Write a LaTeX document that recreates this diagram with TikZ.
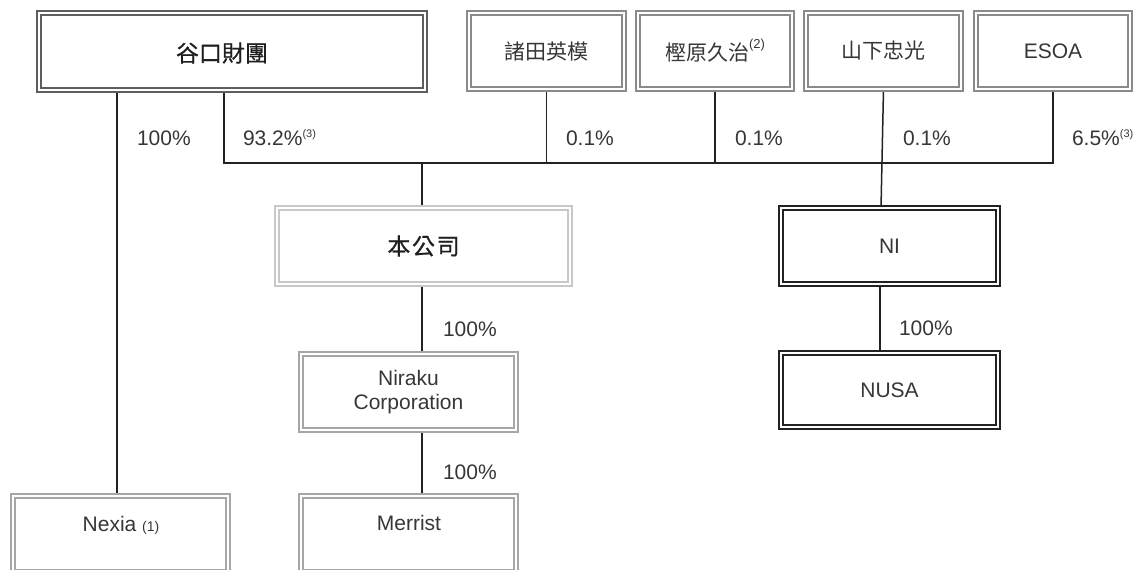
\documentclass[tikz,border=0pt]{standalone}
\usepackage{fontspec}
\setmainfont{Liberation Sans}
\newfontfamily\cjk{Noto Sans CJK TC}
\newfontfamily\cjkb{Noto Sans CJK TC}[FakeBold=0.6]
\usetikzlibrary{backgrounds}
\definecolor{bxA}{HTML}{5E5E5E}
\definecolor{bxB}{HTML}{8A8A8A}
\definecolor{bxC}{HTML}{C8C8C8}
\definecolor{bxD}{HTML}{A6A6A6}
\definecolor{bxE}{HTML}{222222}
\definecolor{txt}{HTML}{363636}
\definecolor{ln}{HTML}{222222}
\newcommand{\supnote}[1]{\raisebox{3.6pt}{\rmfamily\fontsize{5.5}{5.5}\selectfont(#1)}}
\begin{document}
\begin{tikzpicture}[x=0.5pt,y=-0.5pt,
  every node/.style={inner sep=0pt, outer sep=0pt, text=txt, font=\fontsize{10.5}{12}\selectfont},
  dbox/.style={draw=#1, double=white, line width=1pt, double distance=1pt},
  conn/.style={draw=ln, line width=0.75pt},
  pct/.style={anchor=base west},
  cjkbig/.style={font=\cjkb\fontsize{11.5}{12}\selectfont, text=black!88},
  cjksmall/.style={font=\cjk\fontsize{10.5}{12}\selectfont, text=txt}
]
\useasboundingbox (0,0) rectangle (1134,569);
\clip (0,0) rectangle (1134,569);

% boxes
\node[dbox=bxA, minimum width=193pt, minimum height=38.5pt] (tan) at (232,51.5) {};
\node[cjkbig] (tantext) at (222,53) {谷口財團};
\node[dbox=bxB, minimum width=77.5pt, minimum height=38pt, cjksmall] (mor) at (546.5,51) {諸田英模};
\node[dbox=bxB, minimum width=77pt, minimum height=38pt, cjksmall] (kas) at (715,51) {樫原久治\raisebox{6pt}{\rmfamily\fontsize{6.5}{6.5}\selectfont(2)}};
\node[dbox=bxB, minimum width=77.5pt, minimum height=38pt, cjksmall] (yam) at (883.5,51) {山下忠光};
\node[dbox=bxB, minimum width=77pt, minimum height=38pt] (esoa) at (1053,51) {ESOA};

\node[dbox=bxC, minimum width=146.5pt, minimum height=38pt, cjkbig] (hon) at (423.5,246) {本\hspace{0.8pt}公\hspace{0.8pt}司};
\node[dbox=bxD, minimum width=107.5pt, minimum height=38pt, align=center] (nir) at (408.5,392) {Niraku\\Corporation};
\node[dbox=bxD, minimum width=107.5pt, minimum height=38pt] (mer) at (408.5,534) {};
\node (mertext) at (409,523) {Merrist};
\node[dbox=bxD, minimum width=107.5pt, minimum height=38pt] (nex) at (120.5,534) {};
\node[anchor=base] (nextext) at (121,531) {Nexia {\fontsize{7}{8}\selectfont(1)}};

\node[dbox=bxE, minimum width=108.5pt, minimum height=38pt] (ni) at (889.5,246) {NI};
\node[dbox=bxE, minimum width=108.5pt, minimum height=37pt] (nusa) at (889.5,390) {NUSA};

% percentages
\node[pct] (p1) at (137,145) {100\%};
\node[pct] (p2) at (243,145) {93.2\%\supnote{3}};
\node[pct] (p3) at (566,145) {0.1\%};
\node[pct] (p4) at (735,145) {0.1\%};
\node[pct] (p5) at (903,145) {0.1\%};
\node[pct] (p6) at (1072,145) {6.5\%\supnote{3}};
\node[pct] (p7) at (443,336) {100\%};
\node[pct] (p8) at (443,479) {100\%};
\node[pct] (p9) at (899,335) {100\%};

\coordinate (xA) at (117,0);
\coordinate (barL) at (224,163);
\coordinate (xC) at (422,0);

\begin{scope}[on background layer]
\draw[conn] (tan.south -| xA) -- (nex.north -| xA);
\draw[conn] (tan.south -| barL) -- (barL) -- (esoa.south |- barL) -- (esoa.south);
\draw[conn] (mor.south) -- (mor.south |- barL);
\draw[conn] (kas.south) -- (kas.south |- barL);
\draw[conn] (yam.south) -- ([xshift=-4.25pt]ni.north);
\draw[conn] (barL -| xC) -- (hon.north -| xC);
\draw[conn] (hon.south -| xC) -- (nir.north -| xC);
\draw[conn] (nir.south -| xC) -- (mer.north -| xC);
\draw[conn] ([xshift=-4.75pt]ni.south) -- ([xshift=-4.75pt]nusa.north);
\end{scope}
\end{tikzpicture}
\end{document}
